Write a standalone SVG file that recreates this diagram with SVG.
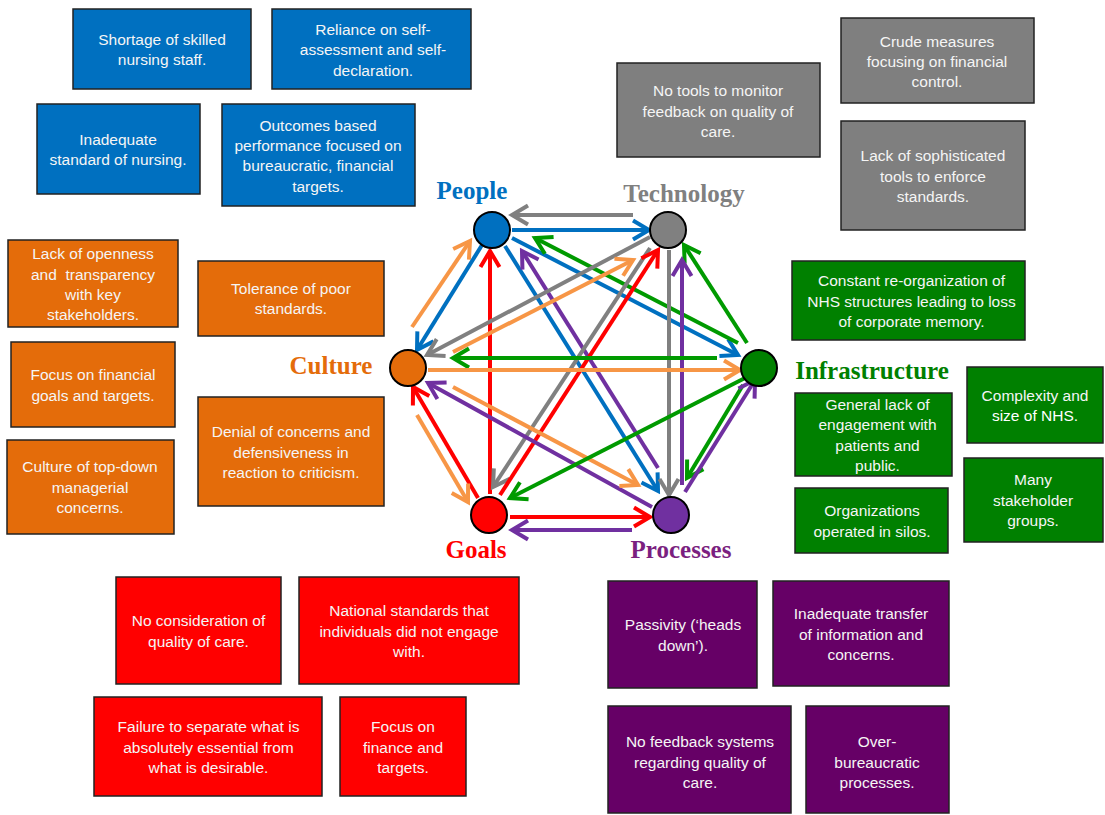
<svg xmlns="http://www.w3.org/2000/svg" width="1105" height="815" viewBox="0 0 1105 815">
<style>
.box{stroke:#222;stroke-width:1.5}
.b{fill:#0070C0}.g{fill:#7F7F7F}.o{fill:#E46C0A}.gr{fill:#008000}.r{fill:#FF0000}.p{fill:#660066}
.t{font-family:"Liberation Sans",Arial,sans-serif;font-size:15.5px;fill:#F5F5F5;text-anchor:middle;white-space:pre}
.lbl{font-family:"Liberation Serif","Times New Roman",serif;font-size:25px;font-weight:bold;text-anchor:middle}
.node{stroke:#000;stroke-width:2}
.c line{stroke-width:4;fill:none}
.cb{stroke:#0070C0}.cg{stroke:#808080}.co{stroke:#F79646}.cgr{stroke:#009A00}.cr{stroke:#FF0000}.cp{stroke:#7030A0}
</style>
<defs>
<marker id="mb" markerUnits="userSpaceOnUse" viewBox="-20 -12 26 24" markerWidth="26" markerHeight="24" refX="0" refY="0" orient="auto" overflow="visible"><path d="M-16,-9.5 L0,0 L-16,9.5" fill="none" stroke="#0070C0" stroke-width="4"/></marker>
<marker id="mg" markerUnits="userSpaceOnUse" viewBox="-20 -12 26 24" markerWidth="26" markerHeight="24" refX="0" refY="0" orient="auto" overflow="visible"><path d="M-16,-9.5 L0,0 L-16,9.5" fill="none" stroke="#808080" stroke-width="4"/></marker>
<marker id="mo" markerUnits="userSpaceOnUse" viewBox="-20 -12 26 24" markerWidth="26" markerHeight="24" refX="0" refY="0" orient="auto" overflow="visible"><path d="M-16,-9.5 L0,0 L-16,9.5" fill="none" stroke="#F79646" stroke-width="4"/></marker>
<marker id="mgr" markerUnits="userSpaceOnUse" viewBox="-20 -12 26 24" markerWidth="26" markerHeight="24" refX="0" refY="0" orient="auto" overflow="visible"><path d="M-16,-9.5 L0,0 L-16,9.5" fill="none" stroke="#009A00" stroke-width="4"/></marker>
<marker id="mr" markerUnits="userSpaceOnUse" viewBox="-20 -12 26 24" markerWidth="26" markerHeight="24" refX="0" refY="0" orient="auto" overflow="visible"><path d="M-16,-9.5 L0,0 L-16,9.5" fill="none" stroke="#FF0000" stroke-width="4"/></marker>
<marker id="mp" markerUnits="userSpaceOnUse" viewBox="-20 -12 26 24" markerWidth="26" markerHeight="24" refX="0" refY="0" orient="auto" overflow="visible"><path d="M-16,-9.5 L0,0 L-16,9.5" fill="none" stroke="#7030A0" stroke-width="4"/></marker>
</defs>
<rect width="1105" height="815" fill="#fff"/>

<g id="connectors" class="c">
<line class="cg" x1="633" y1="215" x2="512" y2="215" marker-end="url(#mg)"/>
<line class="cb" x1="512" y1="230" x2="649" y2="230" marker-end="url(#mb)"/>
<line class="co" x1="412" y1="327" x2="470" y2="241" marker-end="url(#mo)"/>
<line class="cb" x1="482" y1="245" x2="417" y2="350" marker-end="url(#mb)"/>
<line class="cr" x1="490" y1="494" x2="490" y2="251" marker-end="url(#mr)"/>
<line class="cb" x1="505" y1="246" x2="658" y2="491" marker-end="url(#mb)"/>
<line class="cb" x1="512" y1="238" x2="738" y2="355" marker-end="url(#mb)"/>
<line class="cp" x1="658" y1="468" x2="522" y2="251" marker-end="url(#mp)"/>
<line class="cgr" x1="738" y1="343" x2="535" y2="238" marker-end="url(#mgr)"/>
<line class="cgr" x1="747" y1="343" x2="684" y2="245" marker-end="url(#mgr)"/>
<line class="cg" x1="650" y1="237" x2="427" y2="355" marker-end="url(#mg)"/>
<line class="co" x1="453" y1="352" x2="633" y2="260" marker-end="url(#mo)"/>
<line class="cg" x1="650" y1="248" x2="493" y2="487" marker-end="url(#mg)"/>
<line class="cr" x1="500" y1="495" x2="658" y2="250" marker-end="url(#mr)"/>
<line class="cg" x1="669" y1="250" x2="669" y2="495" marker-end="url(#mg)"/>
<line class="cp" x1="682" y1="485" x2="682" y2="260" marker-end="url(#mp)"/>
<line class="cgr" x1="717" y1="358" x2="453" y2="358" marker-end="url(#mgr)"/>
<line class="co" x1="428" y1="370" x2="740" y2="370" marker-end="url(#mo)"/>
<line class="cp" x1="652" y1="507" x2="428" y2="383" marker-end="url(#mp)"/>
<line class="co" x1="453" y1="387" x2="638" y2="485" marker-end="url(#mo)"/>
<line class="cr" x1="478" y1="498" x2="413" y2="387" marker-end="url(#mr)"/>
<line class="co" x1="417" y1="415" x2="468" y2="502" marker-end="url(#mo)"/>
<line class="cgr" x1="745" y1="378" x2="510" y2="498" marker-end="url(#mgr)"/>
<line class="cgr" x1="743" y1="385" x2="687" y2="478" marker-end="url(#mgr)"/>
<line class="cp" x1="685" y1="492" x2="755" y2="380" marker-end="url(#mp)"/>
<line class="cr" x1="510" y1="517" x2="650" y2="517" marker-end="url(#mr)"/>
<line class="cp" x1="632" y1="530" x2="512" y2="530" marker-end="url(#mp)"/>
</g>

<g id="node-people"><circle class="node" cx="492" cy="230" r="18" fill="#0070C0"/><text class="lbl" x="472" y="199" fill="#0070C0">People</text></g>
<g id="node-technology"><circle class="node" cx="668" cy="230" r="18" fill="#808080"/><text class="lbl" x="684" y="202" fill="#808080">Technology</text></g>
<g id="node-infrastructure"><circle class="node" cx="759" cy="368" r="18" fill="#008000"/><text class="lbl" x="872" y="379" fill="#008000">Infrastructure</text></g>
<g id="node-processes"><circle class="node" cx="671" cy="515" r="18" fill="#7030A0"/><text class="lbl" x="681" y="558" fill="#7B1F80">Processes</text></g>
<g id="node-goals"><circle class="node" cx="489" cy="515" r="18" fill="#FF0000"/><text class="lbl" x="476" y="558" fill="#FF0000">Goals</text></g>
<g id="node-culture"><circle class="node" cx="408" cy="368" r="18" fill="#E46C0A"/><text class="lbl" x="331" y="374" fill="#E46C0A">Culture</text></g>

<g id="people-1"><rect class="box b" x="73" y="9" width="178" height="80"/><text class="t"><tspan x="162" y="44.5">Shortage of skilled</tspan><tspan x="162" y="65">nursing staff.</tspan></text></g>
<g id="people-2"><rect class="box b" x="272" y="9" width="199" height="80"/><text class="t"><tspan x="373" y="34.5">Reliance on self-</tspan><tspan x="373" y="55">assessment and self-</tspan><tspan x="373" y="75.5">declaration.</tspan></text></g>
<g id="people-3"><rect class="box b" x="37" y="104" width="163" height="90"/><text class="t"><tspan x="118" y="144.5">Inadequate</tspan><tspan x="118" y="165">standard of nursing.</tspan></text></g>
<g id="people-4"><rect class="box b" x="222" y="104" width="193" height="102"/><text class="t"><tspan x="318" y="130.5">Outcomes based</tspan><tspan x="318" y="151">performance focused on</tspan><tspan x="318" y="171">bureaucratic, financial</tspan><tspan x="318" y="191.5">targets.</tspan></text></g>

<g id="tech-1"><rect class="box g" x="617" y="63" width="203" height="94"/><text class="t"><tspan x="718" y="96">No tools to monitor</tspan><tspan x="718" y="116.5">feedback on quality of</tspan><tspan x="718" y="137">care.</tspan></text></g>
<g id="tech-2"><rect class="box g" x="841" y="18" width="193" height="85"/><text class="t"><tspan x="937" y="47">Crude measures</tspan><tspan x="937" y="67">focusing on financial</tspan><tspan x="937" y="87">control.</tspan></text></g>
<g id="tech-3"><rect class="box g" x="841" y="121" width="184" height="109"/><text class="t"><tspan x="933" y="161">Lack of sophisticated</tspan><tspan x="933" y="181.5">tools to enforce</tspan><tspan x="933" y="202">standards.</tspan></text></g>

<g id="culture-1"><rect class="box o" x="8" y="240" width="170" height="87"/><text class="t"><tspan x="93" y="259">Lack of openness</tspan><tspan x="93" y="279.5">and  transparency</tspan><tspan x="93" y="299.5">with key</tspan><tspan x="93" y="320">stakeholders.</tspan></text></g>
<g id="culture-2"><rect class="box o" x="198" y="261" width="186" height="75"/><text class="t"><tspan x="291" y="293.5">Tolerance of poor</tspan><tspan x="291" y="314">standards.</tspan></text></g>
<g id="culture-3"><rect class="box o" x="11" y="342" width="164" height="85"/><text class="t"><tspan x="93" y="380">Focus on financial</tspan><tspan x="93" y="400.5">goals and targets.</tspan></text></g>
<g id="culture-4"><rect class="box o" x="7" y="440" width="167" height="94"/><text class="t"><tspan x="90" y="472">Culture of top-down</tspan><tspan x="90" y="492.5">managerial</tspan><tspan x="90" y="512.5">concerns.</tspan></text></g>
<g id="culture-5"><rect class="box o" x="198" y="397" width="186" height="109"/><text class="t"><tspan x="291" y="437">Denial of concerns and</tspan><tspan x="291" y="457.5">defensiveness in</tspan><tspan x="291" y="478">reaction to criticism.</tspan></text></g>

<g id="infra-1"><rect class="box gr" x="792" y="261" width="233" height="79"/><text class="t"><tspan x="911.5" y="286">Constant re-organization of</tspan><tspan x="911.5" y="306.5">NHS structures leading to loss</tspan><tspan x="911.5" y="327">of corporate memory.</tspan></text></g>
<g id="infra-2"><rect class="box gr" x="795" y="393" width="157" height="83"/><text class="t"><tspan x="877.5" y="409.5">General lack of</tspan><tspan x="877.5" y="430">engagement with</tspan><tspan x="877.5" y="451">patients and</tspan><tspan x="877.5" y="471">public.</tspan></text></g>
<g id="infra-3"><rect class="box gr" x="795" y="488" width="153" height="65"/><text class="t"><tspan x="872" y="516">Organizations</tspan><tspan x="872" y="537">operated in silos.</tspan></text></g>
<g id="infra-4"><rect class="box gr" x="967" y="367" width="136" height="76"/><text class="t"><tspan x="1035" y="401">Complexity and</tspan><tspan x="1035" y="421" fill="#fff">size of NHS.</tspan></text></g>
<g id="infra-5"><rect class="box gr" x="964" y="458" width="139" height="84"/><text class="t"><tspan x="1033" y="485">Many</tspan><tspan x="1033" y="505.5">stakeholder</tspan><tspan x="1033" y="526">groups.</tspan></text></g>

<g id="goals-1"><rect class="box r" x="116" y="577" width="165" height="107"/><text class="t"><tspan x="198.5" y="626">No consideration of</tspan><tspan x="198.5" y="646.5">quality of care.</tspan></text></g>
<g id="goals-2"><rect class="box r" x="299" y="577" width="220" height="107"/><text class="t"><tspan x="409" y="616">National standards that</tspan><tspan x="409" y="637">individuals did not engage</tspan><tspan x="409" y="657">with.</tspan></text></g>
<g id="goals-3"><rect class="box r" x="94" y="697" width="228" height="99"/><text class="t"><tspan x="208.5" y="732">Failure to separate what is</tspan><tspan x="208.5" y="752.5">absolutely essential from</tspan><tspan x="208.5" y="772.5">what is desirable.</tspan></text></g>
<g id="goals-4"><rect class="box r" x="340" y="697" width="126" height="99"/><text class="t"><tspan x="403" y="732">Focus on</tspan><tspan x="403" y="752.5">finance and</tspan><tspan x="403" y="772.5">targets.</tspan></text></g>

<g id="proc-1"><rect class="box p" x="608" y="581" width="149" height="107"/><text class="t"><tspan x="683" y="630">Passivity (‘heads</tspan><tspan x="683" y="651">down’).</tspan></text></g>
<g id="proc-2"><rect class="box p" x="773" y="581" width="176" height="105"/><text class="t"><tspan x="861" y="619">Inadequate transfer</tspan><tspan x="861" y="639.5">of information and</tspan><tspan x="861" y="660">concerns.</tspan></text></g>
<g id="proc-3"><rect class="box p" x="608" y="706" width="183" height="107"/><text class="t"><tspan x="700" y="747">No feedback systems</tspan><tspan x="700" y="767.5">regarding quality of</tspan><tspan x="700" y="787.5">care.</tspan></text></g>
<g id="proc-4"><rect class="box p" x="806" y="706" width="143" height="107"/><text class="t"><tspan x="877" y="747">Over-</tspan><tspan x="877" y="767.5">bureaucratic</tspan><tspan x="877" y="787.5">processes.</tspan></text></g>
</svg>
